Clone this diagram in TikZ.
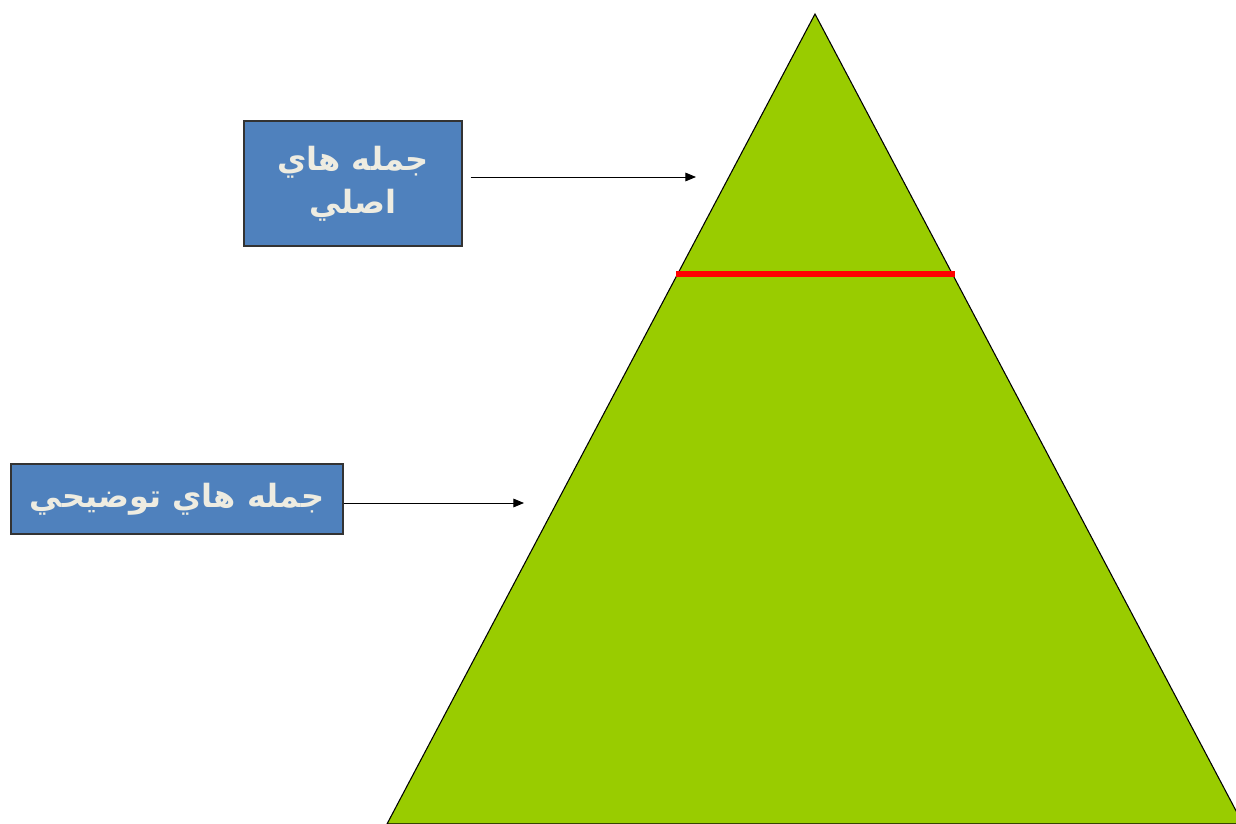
\documentclass[tikz,border=0pt]{standalone}
\usepackage{fontspec}
\newfontfamily\arabicfont[Script=Arabic]{DejaVu Sans}
\TeXXeTstate=1
\usetikzlibrary{arrows.meta}
\definecolor{boxblue}{HTML}{4F81BD}
\definecolor{pyrgreen}{HTML}{99CC00}
\definecolor{textcream}{HTML}{EEECE1}
\tikzset{
  labelbox/.style={draw=black!80, line width=0.8pt, fill=boxblue, text=textcream, align=center,
    font=\arabicfont\bfseries\fontsize{24}{32}\selectfont},
  pointer/.style={-{Triangle[length=8pt,width=6.5pt]}, line width=0.7pt}
}
\begin{document}
\begin{tikzpicture}[x=0.75pt, y=-0.75pt]
	\useasboundingbox (0,0) rectangle (1236,824);
	% Pyramid (Green)
	\begin{scope}
		\clip (0,0) rectangle (1236,824);
		\draw[black, fill=pyrgreen, line width=0.8pt] (815,14) -- (1243,824) -- (387,824) -- cycle;
	\end{scope}
	% Dividing line (Red)
	\draw[red, line width=4.5pt] (676,274) -- (955,274);
	% Label boxes
	\node[labelbox, minimum width=163.5pt, minimum height=93.75pt] (main) at (353,183.5)
		{\beginR جمله هاي\endR\\ \beginR اصلي\endR};
	\node[labelbox, minimum width=249pt, minimum height=52.5pt] (detail) at (177,499)
		{\beginR جمله هاي توضيحي\endR};
	% Arrows
	\coordinate (mainTip) at (696,177);
	\coordinate (detailTip) at (524,503);
	\draw[pointer] ([xshift=6pt]mainTip -| main.east) -- (mainTip);
	\draw[pointer] (detailTip -| detail.east) -- (detailTip);
\end{tikzpicture}
\end{document}
